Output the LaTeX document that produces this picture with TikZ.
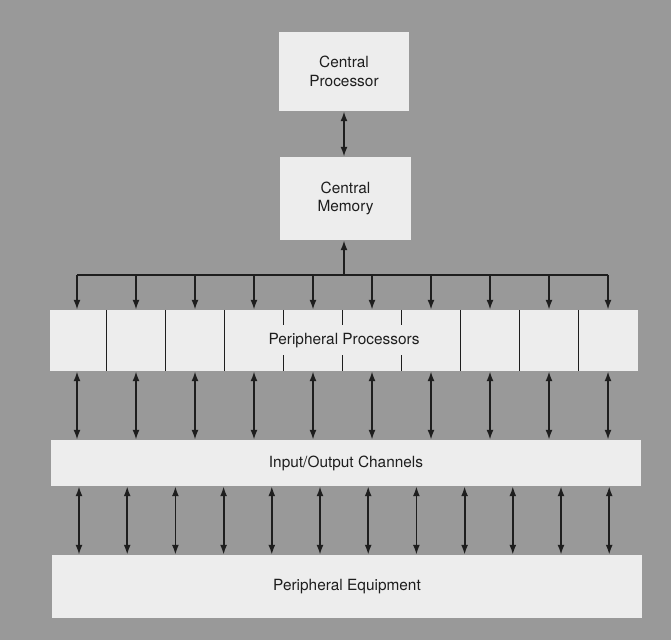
\documentclass[tikz,border=0pt]{standalone}
\usepackage{fontspec}
\setmainfont{TeX Gyre Heros}
\usetikzlibrary{arrows.meta, positioning}
\definecolor{bggray}{HTML}{999999}
\definecolor{boxgray}{HTML}{EDEDED}
\definecolor{inkgray}{HTML}{1E1E1E}

\begin{document}
\begin{tikzpicture}[x=1pt,y=-1pt,
    unit/.style={fill=boxgray, inner sep=0pt, align=center, text=inkgray,
        font=\fontsize{15.4}{18.5}\selectfont},
    link/.style={draw=inkgray, line width=1.8pt, {Latex[length=10pt,width=7pt]}-{Latex[length=10pt,width=7pt]}},
    feed/.style={draw=inkgray, line width=1.8pt, -{Latex[length=10pt,width=7pt]}},
    divider/.style={draw=inkgray, line width=1.4pt}]
    \fill[bggray] (0,0) rectangle (671,640);
    \useasboundingbox (0,0) rectangle (671,640);
    \node[unit, minimum width=130, minimum height=79] (cpu) at (344,71.5) {Central\\Processor};
    \node[unit, minimum width=131, minimum height=83] (mem) at (345.5,198.5) {Central\\Memory};
    \node[unit, minimum width=588, minimum height=61] (pp) at (344,340.5) {Peripheral Processors};
    \node[unit, minimum width=590, minimum height=46] (io) at (346,463) {Input/Output Channels};
    \node[unit, minimum width=590, minimum height=63] (pe) at (347,586.5) {Peripheral Equipment};
    \coordinate (bus) at (344,275);
    \coordinate (busL) at (77,275);
    \coordinate (busR) at (608,275);
    \draw[link] (cpu.south -| 344,0) -- (mem.north -| 344,0);
    \draw[feed] (bus) -- (mem.south -| bus);
    \draw[draw=inkgray, line width=1.8pt] (busL) -- (busR);
    \foreach \i in {0,...,9} {
        \pgfmathsetmacro{\xa}{77+59*\i}
        \draw[feed] (\xa,275) -- (\xa,0 |- pp.north);
        \draw[link] (\xa,0 |- pp.south) -- (\xa,0 |- io.north);
    }
    \foreach \j in {0,1,2,6,7,8} {
        \pgfmathsetmacro{\xd}{106.5+59*\j}
        \draw[divider] (\xd,0 |- pp.north) -- (\xd,0 |- pp.south);
    }
    \foreach \j in {3,4,5} {
        \pgfmathsetmacro{\xd}{106.5+59*\j}
        \draw[divider] (\xd,0 |- pp.north) -- (\xd,325);
        \draw[divider] (\xd,355) -- (\xd,0 |- pp.south);
    }
    \foreach \k in {0,...,11} {
        \pgfmathsetmacro{\xb}{79+48.2*\k}
        \draw[link] (\xb,0 |- io.south) -- (\xb,0 |- pe.north);
    }
\end{tikzpicture}
\end{document}
